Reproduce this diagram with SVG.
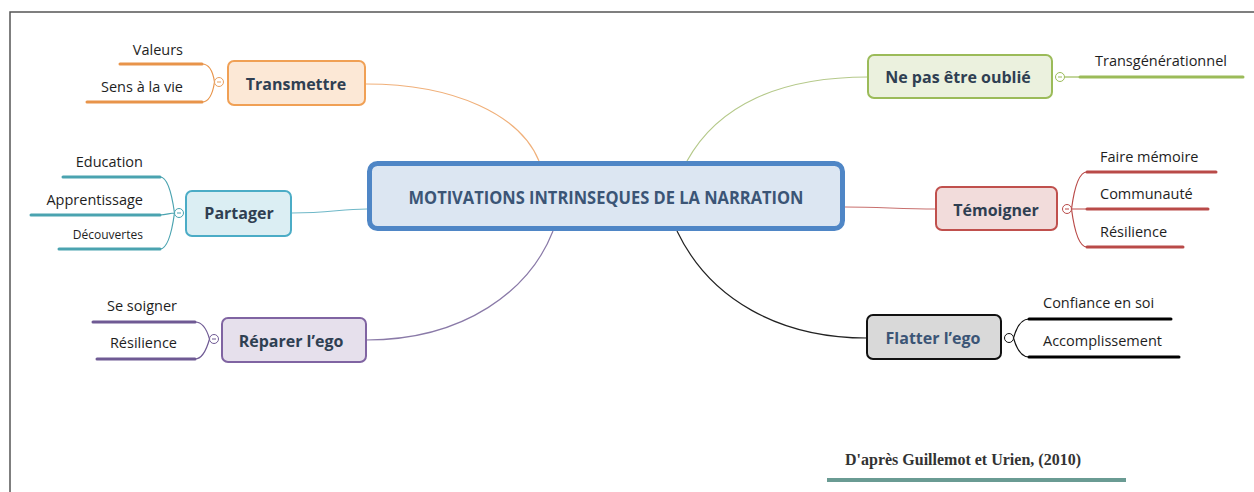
<svg xmlns="http://www.w3.org/2000/svg" width="1254" height="492" viewBox="0 0 1254 492">
<style>
.node{stroke-width:2}
.lbl{font-family:"Open Sans","Liberation Sans",sans-serif;font-weight:bold;font-size:16px;fill:#2f3f52;text-anchor:middle}
.sub{font-family:"Open Sans","Liberation Sans",sans-serif;font-size:14.5px;fill:#1e1e1e}
.small{font-size:12px}
.conn{fill:none;stroke-width:1.2}
.br{fill:none;stroke-width:1.2}
.ul{stroke-width:3;stroke-linecap:round}
.dot{fill:#fff;stroke-width:1}
.minus{stroke-width:1}
</style>
<rect width="1254" height="492" fill="#fff"/>
<path d="M10,492 V12 H1254" fill="none" stroke="#555" stroke-width="1.5"/>

<g id="connectors">
<path class="conn" stroke="#f0b07a" d="M366,84 C455,84 520,115 539,161"/>
<path class="conn" stroke="#6fb8c8" d="M292,213 C330,213 340,209 367,209"/>
<path class="conn" stroke="#8a7aa8" d="M366,340 C465,340 530,290 553,231"/>
<path class="conn" stroke="#b5c98a" d="M868,77 C780,77 718,105 687,161"/>
<path class="conn" stroke="#c8706e" d="M845,207 C880,207 900,209 936,209"/>
<path class="conn" stroke="#222" d="M677,231 C710,300 780,338 867,338"/>
</g>

<g id="central">
<rect x="369.5" y="163.5" width="473" height="65" rx="8" fill="#dce6f2" stroke="#4f86c6" stroke-width="5"/>
<text x="606" y="204" font-family="Open Sans, Liberation Sans, sans-serif" font-weight="bold" font-size="17" fill="#3b5576" text-anchor="middle" textLength="395" lengthAdjust="spacingAndGlyphs">MOTIVATIONS INTRINSEQUES DE LA NARRATION</text>
</g>

<g id="transmettre">
<rect class="node" x="228" y="61" width="137" height="44" rx="6" fill="#fce8d6" stroke="#f0a055"/>
<text class="lbl" x="296" y="90">Transmettre</text>
<path class="br" stroke="#e8944a" d="M202,64 C210,64 213,72 214.5,82 M202,102 C210,102 213,92 214.5,82"/>
<circle class="dot" cx="219" cy="82" r="4.5" stroke="#e8a060"/>
<line class="minus" stroke="#e8a060" x1="217" y1="82" x2="221" y2="82"/>
<line class="ul" stroke="#e8944a" x1="120" y1="64" x2="202" y2="64"/>
<line class="ul" stroke="#e8944a" x1="87" y1="102" x2="202" y2="102"/>
<text class="sub" x="183" y="55" text-anchor="end">Valeurs</text>
<text class="sub" x="183" y="92" text-anchor="end">Sens à la vie</text>
</g>

<g id="partager">
<rect class="node" x="186" y="191" width="105" height="45" rx="6" fill="#dbeef3" stroke="#4bacc6"/>
<text class="lbl" x="239" y="219">Partager</text>
<path class="br" stroke="#4aa3b0" d="M160,177 C168,177 172,195 174.5,213 M160,215 C166,215 170,213 174.5,213 M160,249 C168,249 172,231 174.5,213"/>
<circle class="dot" cx="179" cy="213" r="4.5" stroke="#4aa3b0"/>
<line class="minus" stroke="#4aa3b0" x1="177" y1="213" x2="181" y2="213"/>
<line class="ul" stroke="#4aa3b0" x1="63" y1="177" x2="160" y2="177"/>
<line class="ul" stroke="#4aa3b0" x1="31" y1="215" x2="160" y2="215"/>
<line class="ul" stroke="#4aa3b0" x1="59" y1="249" x2="160" y2="249"/>
<text class="sub" x="143" y="167" text-anchor="end">Education</text>
<text class="sub" x="143" y="205" text-anchor="end">Apprentissage</text>
<text class="sub small" x="143" y="239" text-anchor="end">Découvertes</text>
</g>

<g id="reparer">
<rect class="node" x="222" y="318" width="144" height="44" rx="6" fill="#e6e0ec" stroke="#8064a2"/>
<text class="lbl" x="291" y="347">Réparer l’ego</text>
<path class="br" stroke="#6f5a94" d="M195,322 C203,322 207,330 209.5,339 M195,359 C203,359 207,348 209.5,339"/>
<circle class="dot" cx="214" cy="339" r="4.5" stroke="#6f5a94"/>
<line class="minus" stroke="#6f5a94" x1="212" y1="339" x2="216" y2="339"/>
<line class="ul" stroke="#6f5a94" x1="93" y1="322" x2="195" y2="322"/>
<line class="ul" stroke="#6f5a94" x1="97" y1="359" x2="195" y2="359"/>
<text class="sub" x="177" y="311" text-anchor="end">Se soigner</text>
<text class="sub" x="177" y="348" text-anchor="end">Résilience</text>
</g>

<g id="oublie">
<rect class="node" x="868" y="55" width="184" height="43" rx="6" fill="#ebf1de" stroke="#9bbb59"/>
<text class="lbl" x="958" y="83">Ne pas être oublié</text>
<line x1="1064.5" y1="77" x2="1080" y2="77" stroke="#9bbb59" stroke-width="1.2"/>
<circle class="dot" cx="1060" cy="77" r="4.5" stroke="#9bbb59"/>
<line class="minus" stroke="#9bbb59" x1="1058" y1="77" x2="1062" y2="77"/>
<line class="ul" stroke="#9bbb59" x1="1080" y1="77" x2="1243" y2="77"/>
<text class="sub" x="1095" y="66">Transgénérationnel</text>
</g>

<g id="temoigner">
<rect class="node" x="936" y="187" width="121" height="43" rx="6" fill="#f2dcdb" stroke="#c0504d"/>
<text class="lbl" x="996" y="216">Témoigner</text>
<path class="br" stroke="#b94a48" d="M1087,172 C1078,172 1074,190 1071.5,209 M1087,209 L1071.5,209 M1087,247 C1078,247 1074,228 1071.5,209"/>
<circle class="dot" cx="1067" cy="209" r="4.5" stroke="#b94a48"/>
<line class="minus" stroke="#b94a48" x1="1065" y1="209" x2="1069" y2="209"/>
<line class="ul" stroke="#b94a48" x1="1087" y1="172" x2="1216" y2="172"/>
<line class="ul" stroke="#b94a48" x1="1087" y1="209" x2="1208" y2="209"/>
<line class="ul" stroke="#b94a48" x1="1087" y1="247" x2="1183" y2="247"/>
<text class="sub" x="1100" y="162">Faire mémoire</text>
<text class="sub" x="1100" y="199">Communauté</text>
<text class="sub" x="1100" y="237">Résilience</text>
</g>

<g id="flatter">
<rect class="node" x="867" y="315" width="134" height="44" rx="6" fill="#d9d9d9" stroke="#111"/>
<text class="lbl" x="933" y="344" style="fill:#3b5576">Flatter l’ego</text>
<path class="br" stroke="#111" d="M1029,319 C1020,319 1016,329 1013.5,338 M1029,357 C1020,357 1016,347 1013.5,338"/>
<circle class="dot" cx="1009" cy="338" r="4.5" stroke="#111"/>
<line class="ul" stroke="#000" x1="1029" y1="319" x2="1171" y2="319"/>
<line class="ul" stroke="#000" x1="1029" y1="357" x2="1179" y2="357"/>
<text class="sub" x="1043" y="308">Confiance en soi</text>
<text class="sub" x="1043" y="346">Accomplissement</text>
</g>

<g id="source">
<text x="845" y="465" font-family="Liberation Serif, serif" font-weight="bold" font-size="16" fill="#333">D'après Guillemot et Urien, (2010)</text>
<line x1="827" y1="480" x2="1126" y2="480" stroke="#6a9b93" stroke-width="4"/>
</g>
</svg>
